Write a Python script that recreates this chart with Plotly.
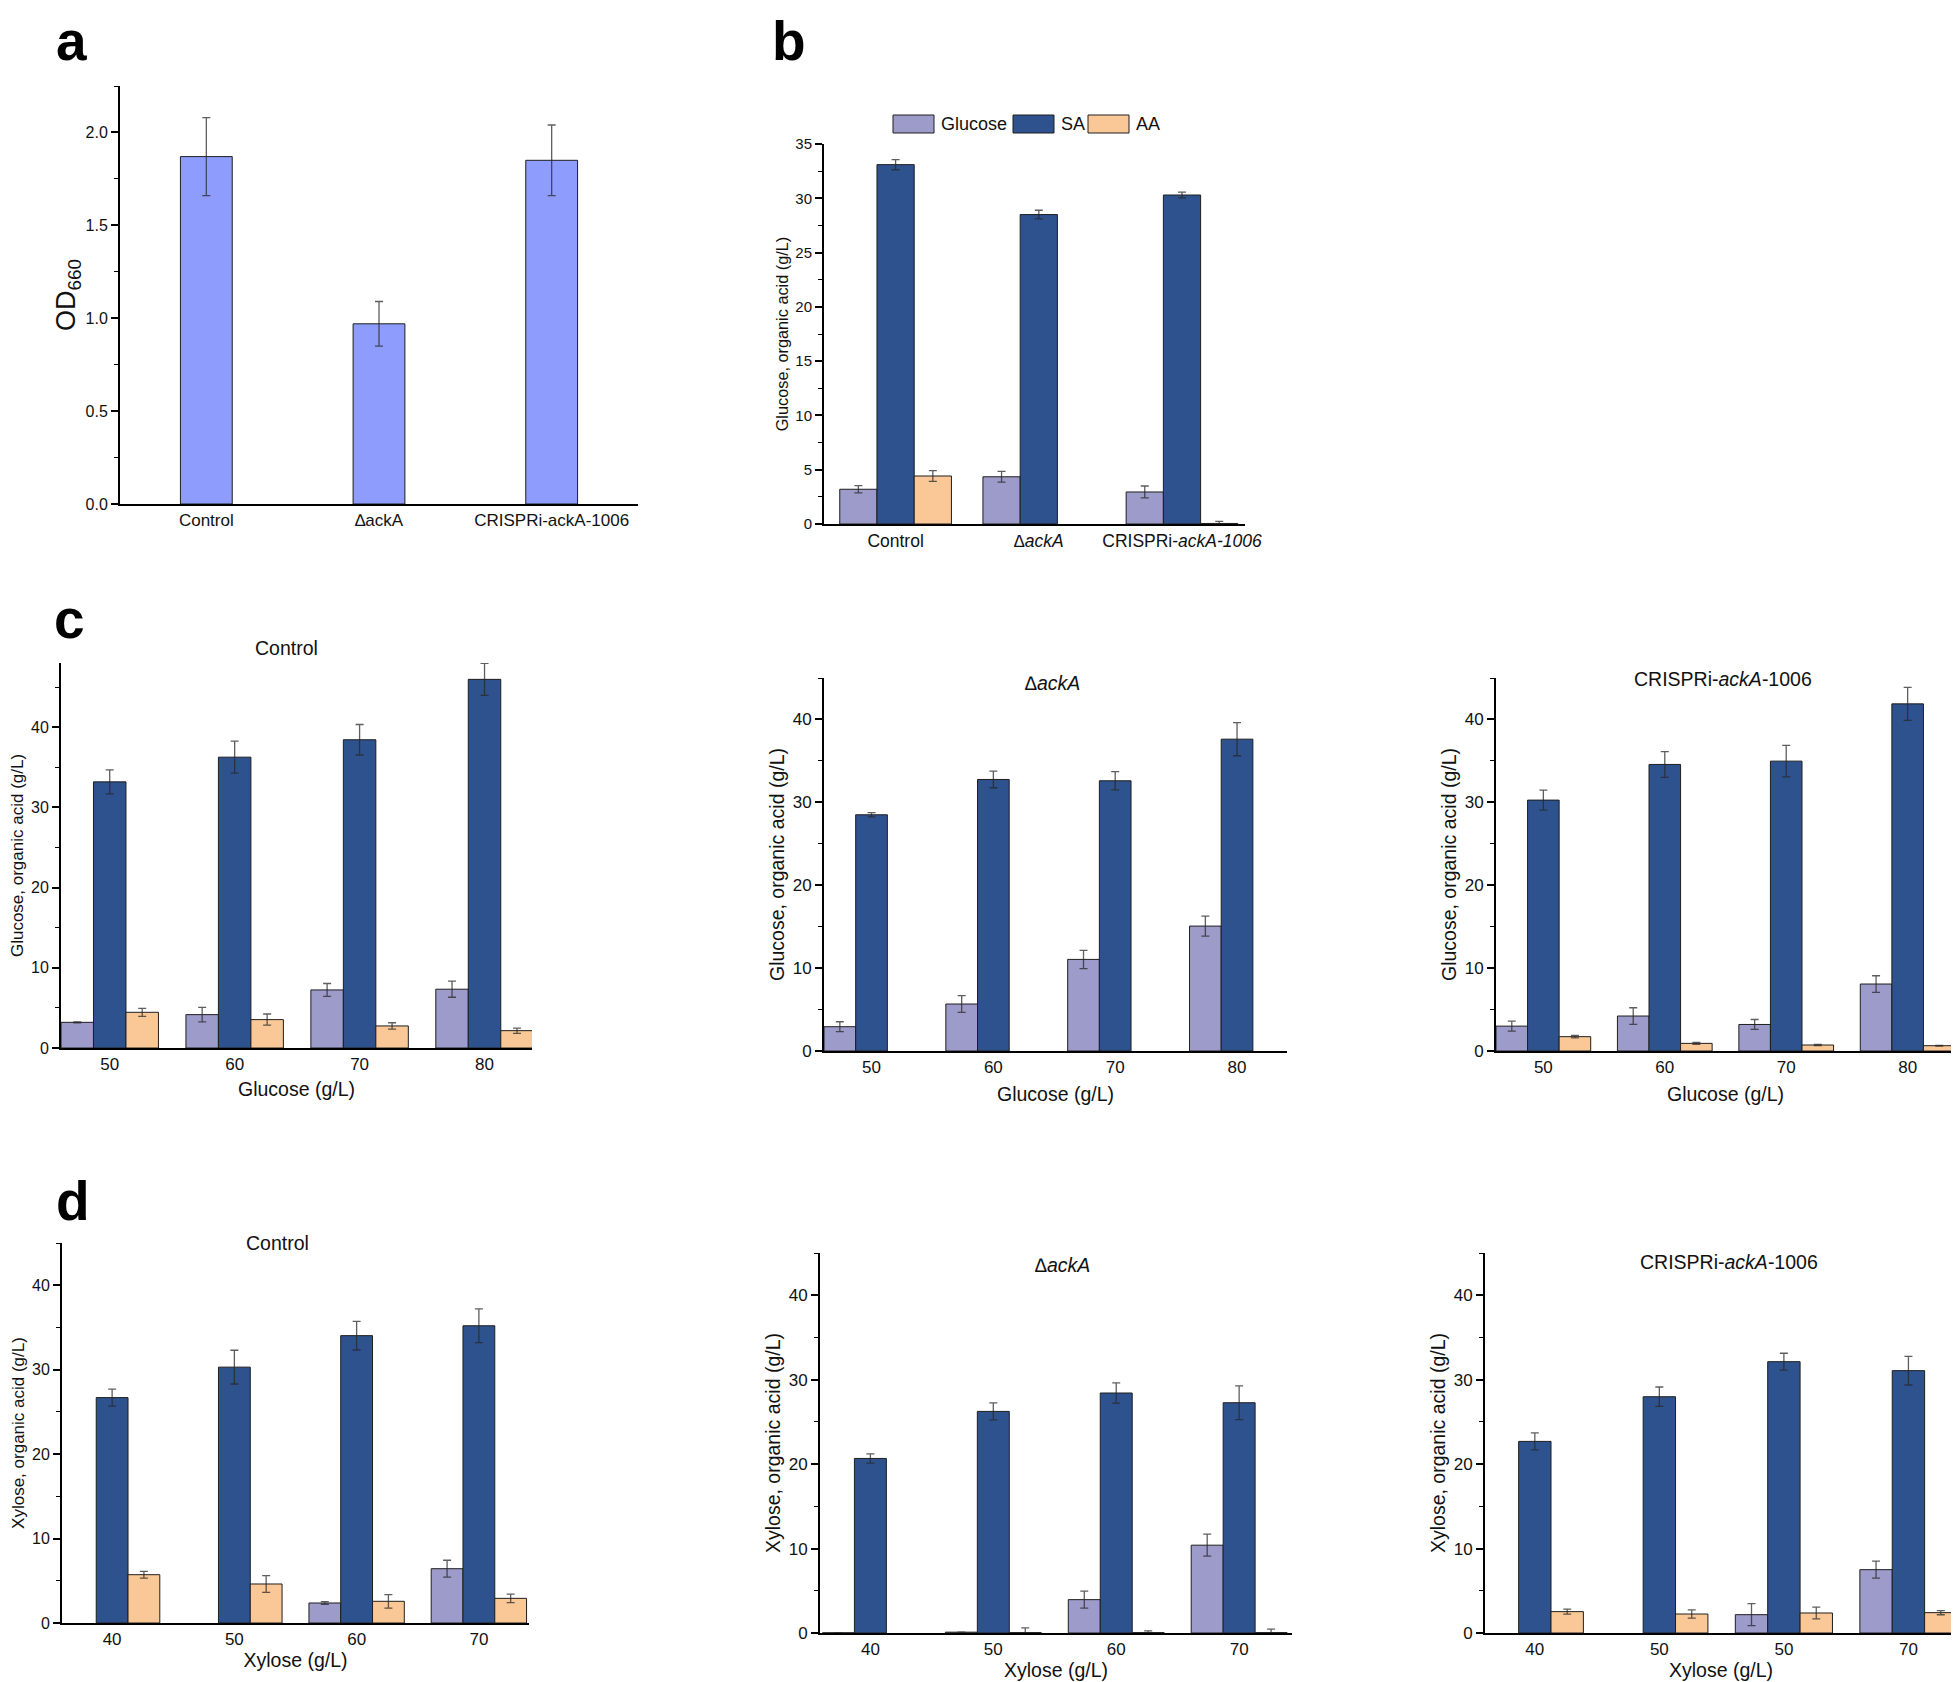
import plotly.graph_objects as go

W, H = 1959, 1682
PAGE_PAD = 8          # default body margin of the html page
FW, FH = W - PAGE_PAD, H - PAGE_PAD
FONT = "Liberation Sans, Arial, sans-serif"

SUGAR_COLOR = "#9d9bca"
SA_COLOR = "#2e528e"
AA_COLOR = "#fac897"
OD_COLOR = "#8e9dfd"
EDGE = "#1e1e1e"
ERR = "rgba(40,40,40,0.75)"

# ---- panel a: growth (OD660) ----
a_strains = ["Control", "∆ackA", "CRISPRi-ackA-1006"]
a_od660 = [1.87, 0.97, 1.85]
a_od660_err = [0.21, 0.12, 0.19]

# ---- panel b: glucose / SA / AA per strain ----
b_strains = ["Control", "<i>∆ackA</i>", "CRISPRi-<i>ackA-1006</i>"]
b_series = ["Glucose", "SA", "AA"]
b_glucose = [3.2, 4.35, 2.95]
b_glucose_err = [0.33, 0.5, 0.55]
b_sa = [33.1, 28.5, 30.3]
b_sa_err = [0.47, 0.4, 0.27]
b_aa = [4.42, None, 0.05]
b_aa_err = [0.5, None, 0.2]

# ---- panel c: initial glucose series ----
c_glucose_levels = ["50", "60", "70", "80"]

c_control_sugar = [3.2, 4.16, 7.24, 7.33]
c_control_sugar_err = [0.05, 0.9, 0.8, 1.0]
c_control_sa = [33.18, 36.26, 38.43, 45.96]
c_control_sa_err = [1.5, 2.0, 1.9, 2.0]
c_control_aa = [4.45, 3.54, 2.75, 2.16]
c_control_aa_err = [0.5, 0.7, 0.4, 0.33]

c_ackA_sugar = [2.93, 5.67, 11.05, 15.07]
c_ackA_sugar_err = [0.6, 1.0, 1.1, 1.2]
c_ackA_sa = [28.5, 32.76, 32.6, 37.62]
c_ackA_sa_err = [0.25, 1.0, 1.1, 2.0]
c_ackA_aa = [None, None, None, None]      # no acetate detected
c_ackA_aa_err = [None, None, None, None]

c_crispri_sugar = [3.0, 4.22, 3.2, 8.08]
c_crispri_sugar_err = [0.6, 1.0, 0.6, 1.0]
c_crispri_sa = [30.27, 34.57, 34.97, 41.88]
c_crispri_sa_err = [1.2, 1.55, 1.9, 2.0]
c_crispri_aa = [1.73, 0.92, 0.72, 0.64]
c_crispri_aa_err = [0.15, 0.12, 0.08, 0.05]

# ---- panel d: initial xylose series ----
d_xylose_levels = ["40", "50", "60", "70"]
d_crispri_levels = ["40", "50", "50", "70"]  # labelled this way in the original

d_control_sugar = [None, None, 2.37, 6.43]
d_control_sugar_err = [None, None, 0.15, 1.0]
d_control_sa = [26.69, 30.3, 34.03, 35.2]
d_control_sa_err = [1.0, 2.0, 1.7, 2.0]
d_control_aa = [5.72, 4.62, 2.57, 2.92]
d_control_aa_err = [0.4, 1.0, 0.8, 0.5]

d_ackA_sugar = [0.02, 0.1, 3.95, 10.4]
d_ackA_sugar_err = [None, None, 1.0, 1.3]
d_ackA_sa = [20.67, 26.24, 28.42, 27.27]
d_ackA_sa_err = [0.55, 1.0, 1.2, 2.0]
d_ackA_aa = [None, 0.05, 0.05, 0.05]
d_ackA_aa_err = [None, 0.55, 0.2, 0.4]

d_crispri_sugar = [None, None, 2.17, 7.5]
d_crispri_sugar_err = [None, None, 1.3, 1.0]
d_crispri_sa = [22.69, 27.98, 32.13, 31.07]
d_crispri_sa_err = [1.0, 1.15, 1.0, 1.7]
d_crispri_aa = [2.53, 2.25, 2.37, 2.41]
d_crispri_aa_err = [0.3, 0.5, 0.7, 0.25]


# positions below are given in page pixels; convert to paper coords of the figure
def px_x(x):
    return (x - PAGE_PAD) / FW


def px_y(y):
    return 1 - (y - PAGE_PAD) / FH


def sfx(n):
    return "" if n == 1 else str(n)


def add_bars(fig, n, ticks, series, width=None):
    """series: list of (name, color, values, errors)"""
    for name, color, vals, errs in series:
        fig.add_trace(go.Bar(
            x=list(range(len(ticks))),
            y=vals,
            name=name,
            width=width,
            marker=dict(color=color, line=dict(color=EDGE, width=1)),
            error_y=dict(type="data", array=errs, color=ERR, thickness=1.3, width=4),
            xaxis="x" + sfx(n),
            yaxis="y" + sfx(n),
            showlegend=False,
        ))


def set_axes(fig, n, box, xrange, yrange, ticks, dtick, minor, tickfmt=None,
             xtitle=None, ytitle=None, xtick_size=17, ytick_size=17,
             xtitle_size=19.5, ytitle_size=19.5, xstandoff=10, ystandoff=3):
    (x0, x1), (y0, y1) = box
    s = sfx(n)
    xaxis = dict(
        domain=[px_x(x0), px_x(x1)], anchor="y" + s, range=xrange, automargin=False,
        tickmode="array", tickvals=list(range(len(ticks))), ticktext=ticks,
        showline=True, linecolor="black", linewidth=2, ticks="",
        showgrid=False, zeroline=False,
        tickfont=dict(size=xtick_size, color="#111"),
    )
    if xtitle:
        xaxis["title"] = dict(text=xtitle, font=dict(size=xtitle_size, color="#111"), standoff=xstandoff)
    fig.update_layout(**{
        "xaxis" + s: xaxis,
        "yaxis" + s: dict(
            domain=[px_y(y1), px_y(y0)], anchor="x" + s, range=yrange, automargin=False,
            dtick=dtick, tick0=0, tickformat=tickfmt,
            ticks="outside", ticklen=7, tickwidth=1.5, tickcolor="black",
            minor=dict(dtick=minor, tick0=0, ticks="outside", ticklen=4, tickwidth=1.2, tickcolor="black"),
            showline=True, linecolor="black", linewidth=2,
            showgrid=False, zeroline=False,
            tickfont=dict(size=ytick_size, color="#111"),
            title=dict(text=ytitle, font=dict(size=ytitle_size, color="#111"), standoff=ystandoff),
        ),
    })


fig = go.Figure()

# panel a
add_bars(fig, 1, a_strains, [("OD660", OD_COLOR, a_od660, a_od660_err)], width=0.3)
set_axes(fig, 1, ((120, 638), (86, 504)), [-0.5, 2.5], [0, 2.25], a_strains, 0.5, 0.25,
         tickfmt=".1f", ytitle="OD<sub>660</sub>", xtick_size=17, ytick_size=16,
         ytitle_size=27, ystandoff=2)

# panel b
add_bars(fig, 2, b_strains, [
    ("Glucose", SUGAR_COLOR, b_glucose, b_glucose_err),
    ("SA", SA_COLOR, b_sa, b_sa_err),
    ("AA", AA_COLOR, b_aa, b_aa_err),
])
set_axes(fig, 2, ((824, 1245), (144, 524)), [-0.5, 2.44], [0, 35], b_strains, 5, 2.5,
         ytitle="Glucose, organic acid (g/L)", xtick_size=17.5, ytick_size=15, ytitle_size=16.3)

# panel c  (left-most panels use a slightly smaller y title so it fits the page edge)
c_panels = [
    (3, ((61, 532), (663, 1048)), [-0.39, 3.38], [0, 48],
     c_control_sugar, c_control_sugar_err, c_control_sa, c_control_sa_err, c_control_aa, c_control_aa_err, 9, 17, 16),
    (4, ((824, 1287), (678, 1051)), [-0.39, 3.41], [0, 45],
     c_ackA_sugar, c_ackA_sugar_err, c_ackA_sa, c_ackA_sa_err, c_ackA_aa, c_ackA_aa_err, 11, 19.5, 17),
    (5, ((1496, 1955), (678, 1051)), [-0.39, 3.39], [0, 45],
     c_crispri_sugar, c_crispri_sugar_err, c_crispri_sa, c_crispri_sa_err, c_crispri_aa, c_crispri_aa_err, 11, 19.5, 17),
]
for n, box, xr, yr, sug, sug_e, sa, sa_e, aa, aa_e, so, yts, yticks in c_panels:
    add_bars(fig, n, c_glucose_levels, [
        ("Glucose", SUGAR_COLOR, sug, sug_e),
        ("SA", SA_COLOR, sa, sa_e),
        ("AA", AA_COLOR, aa, aa_e),
    ])
    set_axes(fig, n, box, xr, yr, c_glucose_levels, 10, 5,
             xtitle="Glucose (g/L)", ytitle="Glucose, organic acid (g/L)", xstandoff=so,
             ytitle_size=yts, ytick_size=yticks)

# panel d
d_panels = [
    (6, ((62, 529), (1243, 1623)), [-0.41, 3.41], d_xylose_levels,
     d_control_sugar, d_control_sugar_err, d_control_sa, d_control_sa_err, d_control_aa, d_control_aa_err, 17, 16),
    (7, ((820, 1292), (1253, 1633)), [-0.41, 3.43], d_xylose_levels,
     d_ackA_sugar, d_ackA_sugar_err, d_ackA_sa, d_ackA_sa_err, d_ackA_aa, d_ackA_aa_err, 19.5, 17),
    (8, ((1485, 1957), (1253, 1633)), [-0.4, 3.39], d_crispri_levels,
     d_crispri_sugar, d_crispri_sugar_err, d_crispri_sa, d_crispri_sa_err, d_crispri_aa, d_crispri_aa_err, 19.5, 17),
]
for n, box, xr, ticks, sug, sug_e, sa, sa_e, aa, aa_e, yts, yticks in d_panels:
    add_bars(fig, n, ticks, [
        ("Xylose", SUGAR_COLOR, sug, sug_e),
        ("SA", SA_COLOR, sa, sa_e),
        ("AA", AA_COLOR, aa, aa_e),
    ])
    set_axes(fig, n, box, xr, [0, 45], ticks, 10, 5,
             xtitle="Xylose (g/L)", ytitle="Xylose, organic acid (g/L)", xstandoff=5,
             ytitle_size=yts, ytick_size=yticks)

annotations = []

# panel letters
letter_font = dict(family="Liberation Sans, Arial, sans-serif", size=55, color="black", weight="bold")
for letter, x in [("a", 54), ("b", 770)]:
    annotations.append(dict(text=letter, x=px_x(x), y=1, xref="paper", yref="paper",
                            xanchor="left", yanchor="top", showarrow=False, font=letter_font))
for letter, x, y in [("c", 52, 619), ("d", 54, 1201)]:
    annotations.append(dict(text=letter, x=px_x(x), y=px_y(y), xref="paper", yref="paper",
                            xanchor="left", yanchor="middle", showarrow=False, font=letter_font))

# subplot titles
for text, x, y in [
    ("Control", 286, 648),
    ("<i>∆ackA</i>", 1052, 683),
    ("CRISPRi-<i>ackA</i>-1006", 1723, 679),
    ("Control", 277, 1243),
    ("<i>∆ackA</i>", 1062, 1265),
    ("CRISPRi-<i>ackA</i>-1006", 1729, 1262),
]:
    annotations.append(dict(text=text, x=px_x(x), y=px_y(y), xref="paper", yref="paper",
                            xanchor="center", yanchor="middle", showarrow=False,
                            font=dict(size=19.5, color="#111")))

# legend for panel b, drawn as swatches + labels
shapes = []
b_colors = [SUGAR_COLOR, SA_COLOR, AA_COLOR]
swatch_left = [893, 1013, 1088]
for name, color, xl in zip(b_series, b_colors, swatch_left):
    shapes.append(dict(type="rect", xref="paper", yref="paper",
                       x0=px_x(xl), x1=px_x(xl + 41), y0=px_y(133), y1=px_y(115),
                       fillcolor=color, line=dict(color=EDGE, width=1)))
    annotations.append(dict(text=name, x=px_x(xl + 46), y=px_y(124), xref="paper", yref="paper",
                            xanchor="left", yanchor="middle", showarrow=False,
                            font=dict(size=18, color="#111")))

fig.update_layout(
    width=FW, height=FH,
    margin=dict(l=0, r=0, t=0, b=0, autoexpand=False),
    paper_bgcolor="white", plot_bgcolor="white",
    font=dict(family=FONT, color="#111"),
    barmode="group", bargap=0.22, bargroupgap=0,
    showlegend=False,
    annotations=annotations,
    shapes=shapes,
)

fig.write_html("out.html")
